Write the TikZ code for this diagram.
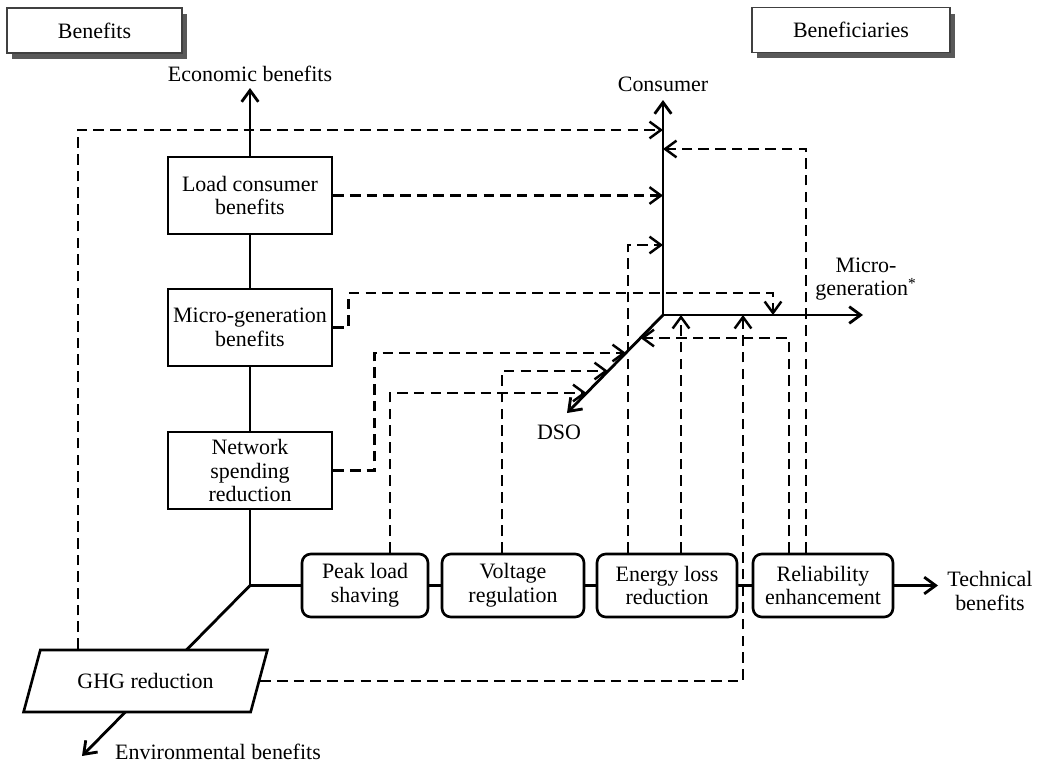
\documentclass[tikz,border=0pt]{standalone}
\usepackage{fontspec}
\setmainfont{Liberation Serif}
\usetikzlibrary{arrows.meta}
\usetikzlibrary{calc}
\usetikzlibrary{positioning}
\usetikzlibrary{shadows}
\usetikzlibrary{shapes.geometric}

\begin{document}
\begin{tikzpicture}[x=0.02cm,y=-0.02cm,
  every node/.style={font=\fontsize{12.5}{13.5}\selectfont,align=center},
  ax/.style={line width=1.6pt,line cap=round,-{Straight Barb[length=6.5pt,width=9.5pt]}},
  ln/.style={line width=1.6pt},
  dl/.style={line width=1.4pt,dash pattern=on 6pt off 3.5pt,-{Straight Barb[length=6.5pt,width=9.5pt]}},
  lbox/.style={draw,line width=1.5pt,minimum width=3.28cm,minimum height=1.54cm,inner sep=0pt},
  rbox/.style={draw,line width=1.5pt,rounded corners=5pt,minimum height=1.26cm,inner sep=0pt},
  hbox/.style={draw=black!75,line width=1.1pt,fill=white,minimum height=0.9cm,
    drop shadow={shadow xshift=0.1cm,shadow yshift=-0.12cm,opacity=1,fill=black!65}}]
	\useasboundingbox (0,0) rectangle (1041,764);
	\node[hbox,minimum width=3.5cm] (h0) at (94.5,30.5) {Benefits};
	\node[hbox,minimum width=3.96cm] (h1) at (851,30) {Beneficiaries};
	% benefit boxes
	\node[lbox] (n0) at (250,195.5) {Load consumer\\benefits};
	\node[lbox] (n1) at (250,327.5) {Micro-generation\\benefits};
	\node[lbox] (n2) at (250,470.5) {Network\\spending\\reduction};
	\node[rbox,minimum width=2.52cm] (n3) at (365,585.5) {Peak load\\shaving};
	\node[rbox,minimum width=2.84cm] (n4) at (513,585.5) {Voltage\\regulation};
	\node[rbox,minimum width=2.8cm] (n5) at (667,585.5) {Energy loss\\reduction};
	\node[rbox,minimum width=2.8cm] (n6) at (823,585.5) {Reliability\\enhancement};
	% axis labels
	\node (eco) at (250,74) {Economic benefits};
	\node (con) at (663,84) {Consumer};
	\node (mg) at (866,279) {Micro-\\generation\textsuperscript{*}};
	\node (dso) at (559,432) {DSO};
	\node (tec) at (990,591) {Technical\\benefits};
	\node (env) at (218,752) {Environmental benefits};
	\coordinate (k) at (250,585.5);
	\coordinate (o) at (663,315);
	\coordinate (ecotip) at (250,88);
	\coordinate (contip) at (663,100);
	\coordinate (mgtip) at (863,315);
	\coordinate (dsotip) at (567,413);
	\coordinate (tectip) at (938,585.5);
	\coordinate (envtip) at (82,756);
	\draw[ax] (n0) -- (ecotip);
	\draw[ln] (n0) -- (n1) -- (n2);
	\draw[ln] (n2) |- (n3);
	\draw[ln] (n3) -- (n4) -- (n5) -- (n6);
	\draw[ax] (n6) -- (tectip);
	\draw[ax] (k) -- (envtip);
	\draw[ax,{Straight Barb[length=6.5pt,width=9.5pt]}-{Straight Barb[length=6.5pt,width=9.5pt]}] (contip) -- (o) -- (mgtip);
	\draw[ax] (o) -- (dsotip);
	\node[trapezium,trapezium left angle=55,trapezium right angle=125,trapezium stretches,
	  minimum width=4.9cm,minimum height=1.24cm,draw,fill=white,line width=1.5pt,inner sep=0pt] (ghg) at (145.5,681) {GHG reduction};
	% dashed links
	\coordinate (q0) at (78,130);
	\coordinate (q1) at (806,149);
	\coordinate (q2) at (628,245);
	\coordinate (q3) at (773,293);
	\coordinate (q4) at (502,371);
	\coordinate (q5) at (390,393);
	\coordinate (q6) at (789,338);
	\coordinate (d0) at (640.5,338);
	\coordinate (d1) at (626,353);
	\coordinate (d2) at (608,371);
	\coordinate (d3) at (586.5,393);
	\coordinate (m1) at (681,315);
	\coordinate (m2) at (743,315);
	\draw[dl] (q0 |- ghg.north) -- (q0) -- (q0 -| o);
	\draw[dl] (n0) -- (n0 -| o);
	\draw[dl] (q1 |- n6.north) -- (q1) -- (q1 -| o);
	\draw[dl] (q2 |- n5.north) -- (q2) -- (q2 -| o);
	\draw[dl] (n1.east) -- ++(15,0) |- (q3) -- (q3 |- o);
	\draw[dl] (n2.east) -- ++(41,0) |- (d1);
	\draw[dl] (q4 |- n4.north) -- (q4) -- (d2);
	\draw[dl] (q5 |- n3.north) -- (q5) -- (d3);
	\draw[dl] (q6 |- n6.north) -- (q6) -- (d0);
	\draw[dl] (m1 |- n5.north) -- (m1);
	\draw[dl] (ghg) -| (m2);
\end{tikzpicture}
\end{document}
